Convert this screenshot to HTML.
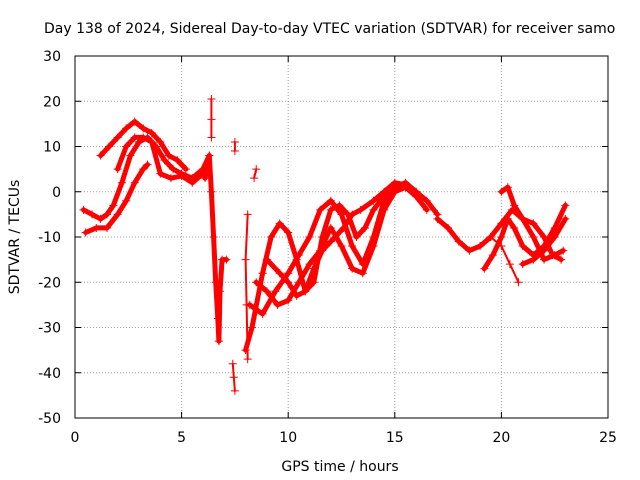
<!DOCTYPE html>
<html><head><meta charset="utf-8"><style>
body{margin:0;background:#fff}
svg{display:block;font-family:"DejaVu Sans","Liberation Sans",sans-serif}
</style></head><body>
<svg id="chart" width="640" height="480">
<text x="44" y="33" font-size="14">Day 138 of 2024, Sidereal Day-to-day VTEC variation (SDTVAR) for receiver samo</text>
<g id="grid"></g><g id="series"></g><g id="axes"></g>
<text x="340" y="471" font-size="14" text-anchor="middle">GPS time / hours</text>
<text transform="translate(19,237) rotate(-90)" font-size="14" text-anchor="middle">SDTVAR / TECUs</text>
</svg>
<script>
const xTicks=[0,5,10,15,20,25];
const yTicks=[30,20,10,0,-10,-20,-30,-40,-50];
const track1=[[0.4,-4],[0.8,-5],[1.2,-6],[1.5,-5],[1.8,-3],[2.2,2],[2.6,8],[3.0,11],[3.4,12],[3.8,10],[4.2,7],[4.6,5],[5.0,4],[5.5,3],[6.0,5],[6.3,8]];
const track2=[[1.2,8],[1.6,10],[2.0,12],[2.4,14],[2.8,15.5],[3.2,14],[3.6,13],[4.0,11],[4.4,8],[4.8,7],[5.2,5]];
const track3=[[0.5,-9],[1.0,-8],[1.5,-8],[2.0,-5],[2.4,-2],[2.8,2],[3.2,5],[3.4,6]];
const track4=[[2.0,5],[2.4,10],[2.8,12],[3.2,12],[3.6,11],[4.0,4],[4.5,3],[5.0,3.5],[5.5,2],[6.0,4]];
const spike=[[6.1,3],[6.3,8],[6.4,0],[6.5,-10],[6.6,-20],[6.7,-28],[6.75,-33],[6.8,-22],[6.9,-15],[7.1,-15]];
const spikeTop=[[6.4,20.5],[6.4,16],[6.4,12]];
const dropA=[[7.4,-38],[7.45,-41],[7.5,-44]];
const dropB=[[7.5,11],[7.5,9]];
const dropC=[[8.1,-5],[8.0,-15],[8.05,-25],[8.1,-37]];
const dropD=[[8.4,3],[8.5,5]];
const track5=[[8.0,-35],[8.3,-30],[8.8,-18],[9.2,-10],[9.6,-7],[10,-9],[10.4,-15],[10.8,-22],[11.2,-20],[11.6,-10],[12,-4],[12.4,-3],[12.8,-5],[13.2,-10],[13.6,-8],[14,-4],[14.5,-1],[15,1],[15.5,1],[16,-1],[16.5,-4]];
const track6=[[8.2,-25],[8.8,-27],[9.4,-22],[10,-18],[10.5,-14],[11,-10],[11.5,-4],[12,-2],[12.5,-5],[13,-12],[13.5,-16],[14,-10],[14.5,-2],[15,1],[15.5,2],[16,0]];
const track7=[[8.5,-20],[9,-22],[9.5,-25],[10,-24],[10.5,-20],[11,-16],[11.5,-13],[12,-8],[12.5,-12],[13,-17],[13.5,-18],[14,-12],[14.5,-4],[15,0],[15.5,1]];
const track8=[[9,-15],[9.6,-18],[10,-20],[10.4,-23],[10.8,-22],[11.2,-17],[11.6,-13],[12,-11],[12.6,-8],[13,-5],[13.4,-4],[14,-2],[14.5,0],[15,2],[15.5,1.5],[16,0],[16.5,-2],[17,-5]];
const track9=[[17,-6],[17.5,-8],[18,-11],[18.5,-13],[19,-12],[19.5,-10],[20,-7],[20.5,-4],[21,-6],[21.5,-10],[22,-15],[22.5,-14],[22.9,-13]];
const track10=[[19.2,-17],[19.6,-14],[20,-10],[20.3,-6],[20.6,-8],[21,-12],[21.5,-14],[22,-12],[22.5,-8],[23,-3]];
const track11=[[20,0],[20.3,1],[20.6,-3],[21,-6],[21.5,-7],[22,-10],[22.4,-14],[22.8,-15]];
const track12=[[19.5,-10],[20,-12],[20.4,-16],[20.8,-20]];
const track13=[[21,-16],[21.5,-15],[22,-13],[22.5,-10],[23,-6]];
const allTracks=[track1,track2,track3,track4,spike,spikeTop,dropA,dropB,dropC,dropD,track5,track6,track7,track8,track9,track10,track11,track12,track13];

const X0=75,X1=608,Y0=56,Y1=418;
const xs=v=>X0+(v-0)/25*(X1-X0);
const ys=v=>Y0+(30-v)/80*(Y1-Y0);
const NS='http://www.w3.org/2000/svg';
function mk(t,a,p){const e=document.createElementNS(NS,t);for(const k in a)e.setAttribute(k,a[k]);p.appendChild(e);return e;}
const grid=document.getElementById('grid'),axes=document.getElementById('axes'),ser=document.getElementById('series');
xTicks.forEach(v=>{
  if(v>0&&v<25){const g=mk('line',{x1:xs(v),x2:xs(v),y1:Y0,y2:Y1,stroke:'#a0a0a0','stroke-dasharray':'1,2'},grid);
  
  }
  const t=mk('text',{x:xs(v),y:Y1+24,'font-size':14,'text-anchor':'middle'},axes);t.textContent=v;
  
  
  mk('line',{x1:xs(v),x2:xs(v),y1:Y1,y2:Y1-6,stroke:'#000'},axes);
  mk('line',{x1:xs(v),x2:xs(v),y1:Y0,y2:Y0+6,stroke:'#000'},axes);
});
yTicks.forEach(v=>{
  if(v<30&&v>-50){const g=mk('line',{x1:X0,x2:X1,y1:ys(v),y2:ys(v),stroke:'#a0a0a0','stroke-dasharray':'1,2'},grid);
  
  }
  const t=mk('text',{x:X0-14,y:ys(v)+5,'font-size':14,'text-anchor':'end'},axes);t.textContent=v;
  
  
  mk('line',{x1:X0,x2:X0+6,y1:ys(v),y2:ys(v),stroke:'#000'},axes);
  mk('line',{x1:X1,x2:X1-6,y1:ys(v),y2:ys(v),stroke:'#000'},axes);
});
const fr=mk('rect',{x:X0,y:Y0,width:X1-X0,height:Y1-Y0,fill:'none',stroke:'#000'},axes);


allTracks.forEach((tr,i)=>{
  const pts=tr.map(p=>xs(p[0]).toFixed(1)+','+ys(p[1]).toFixed(1)).join(' ');
  const pl=mk('polyline',{points:pts,fill:'none',stroke:'#f00','stroke-width':(tr.length<5?2:5),'stroke-linejoin':'round','stroke-linecap':'round'},ser);
  
  
  tr.forEach(p=>{
    const cx=xs(p[0]),cy=ys(p[1]);
    const m=mk('path',{d:`M${cx-4},${cy}h8M${cx},${cy-4}v8`,stroke:'#f00','stroke-width':1},ser);
    
    
  });
});
</script>
</body></html>
